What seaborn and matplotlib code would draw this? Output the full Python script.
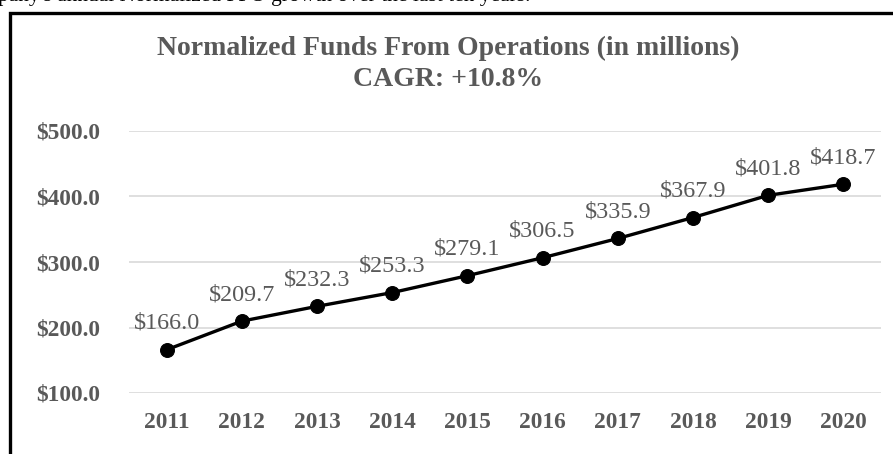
import matplotlib
matplotlib.use("Agg")
import matplotlib.pyplot as plt
import seaborn as sns
import pandas as pd
from matplotlib.patches import Rectangle

# data
years = ["2011", "2012", "2013", "2014", "2015", "2016", "2017", "2018", "2019", "2020"]
ffo = [166.0, 209.7, 232.3, 253.3, 279.1, 306.5, 335.9, 367.9, 401.8, 418.7]
y_ticks = [100, 200, 300, 400, 500]

title = "Normalized Funds From Operations (in millions)\nCAGR: +10.8%"
caption = "pany's annual Normalized FFO growth over the last ten years."

df = pd.DataFrame({"year": years, "ffo": ffo})

sns.set_style("white")
plt.rcParams["font.family"] = ["Liberation Serif", "DejaVu Serif"]
grey = "#595959"

W, H = 893, 454
fig = plt.figure(figsize=(W / 100, H / 100), dpi=100)
ax = fig.add_axes([129 / W, 1 - 393 / H, (881 - 129) / W, (393 - 131) / H])

sns.lineplot(data=df, x="year", y="ffo", ax=ax, color="black", linewidth=2.4,
             marker="o", markersize=10, markeredgecolor="black", sort=False)

for i, v in enumerate(ffo):
    ax.annotate(f"${v:.1f}", (i, v), xytext=(0, 15), textcoords="offset points",
                ha="center", va="baseline", fontsize=17.4, color=grey)

ax.set_xlim(-0.5, len(years) - 0.5)
ax.set_ylim(100, 500)
ax.set_yticks(y_ticks)
ax.set_yticklabels([f"${t:.1f}" for t in y_ticks], fontsize=16.8, fontweight="bold", color=grey)
ax.set_xticks(range(len(years)))
ax.set_xticklabels(years, fontsize=16.8, fontweight="bold", color=grey)
ax.tick_params(axis="y", length=0, pad=21)
ax.tick_params(axis="x", length=0, pad=14)
ax.grid(axis="y", color="#d9d9d9", linewidth=1.2)
ax.set_axisbelow(True)
for s in ax.spines.values():
    s.set_visible(False)
ax.set_xlabel("")
ax.set_ylabel("")

fig.text(448 / W, 1 - 64 / H, title, ha="center", va="center", fontsize=20,
         fontweight="bold", color=grey, linespacing=1.35)

# the surrounding document text and chart box, cropped as in the source
fig.text(-2 / W, 1 - 1 / H, caption, ha="left", va="baseline", fontsize=15.5, color="black")
fig.add_artist(Rectangle((9.5 / W, -0.2), 1.2, 1 - 12.5 / H + 0.2, transform=fig.transFigure,
                         fill=False, edgecolor="black", linewidth=2.4))

fig.savefig("out.png", dpi=100)
